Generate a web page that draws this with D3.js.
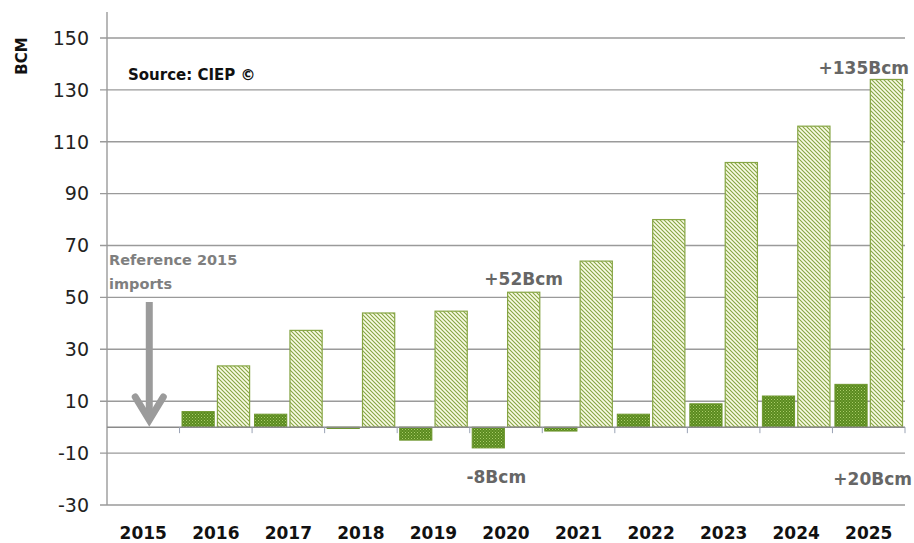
<!DOCTYPE html>
<html>
<head>
<meta charset="utf-8">
<script src="https://cdn.jsdelivr.net/npm/d3@7"></script>
<style>
  body { margin: 0; background: #fff; }
  svg { display: block; }
  text { font-family: "DejaVu Sans", sans-serif; }
</style>
</head>
<body>
<svg id="chart" width="914" height="543"></svg>
<script>
// ---- data ----
const years = ["2015","2016","2017","2018","2019","2020","2021","2022","2023","2024","2025"];
const importChange = [null, 6, 5, -0.5, -5, -8, -1.5, 5, 9, 12, 16.5];
const demandGrowth = [null, 23.6, 37.3, 44, 44.7, 52, 64, 80, 102, 116, 134];
const yTicks = [-30, -10, 10, 30, 50, 70, 90, 110, 130, 150];
const yDomain = [-30, 160];
const annotations = [
  { year: "2020", value: 52, text: "+52Bcm", pos: "above" },
  { year: "2020", value: -8, text: "-8Bcm", pos: "below" },
  { year: "2025", value: 134, text: "+135Bcm", pos: "above" },
  { year: "2025", value: -16, text: "+20Bcm", pos: "low" }
];

(function () {
const svg = d3.select("#chart");
const mLeft = 107, mRight = 905, mTop = 12, mBottom = 505;

const y = d3.scaleLinear().domain(yDomain).range([mBottom, mTop]);
const x = d3.scaleBand().domain(years).range([mLeft, mRight]).paddingInner(0).paddingOuter(0);
const x1 = d3.scaleBand().domain(["imp", "dem"]).range([0, x.bandwidth()]).paddingInner(0.09).paddingOuter(0.07);

// ---- patterns ----
const defs = svg.append("defs");
const dots = defs.append("pattern").attr("id", "dots").attr("patternUnits", "userSpaceOnUse")
  .attr("width", 3).attr("height", 3);
dots.append("rect").attr("width", 3).attr("height", 3).attr("fill", "#5a8a1e");
dots.append("rect").attr("x", 0).attr("y", 0).attr("width", 1).attr("height", 1).attr("fill", "#a9cc6a");
dots.append("rect").attr("x", 1.5).attr("y", 1.5).attr("width", 1).attr("height", 1).attr("fill", "#93b957");

const stripes = defs.append("pattern").attr("id", "stripes").attr("patternUnits", "userSpaceOnUse")
  .attr("width", 4).attr("height", 4);
stripes.append("rect").attr("width", 4).attr("height", 4).attr("fill", "#fafce6");
stripes.append("path").attr("d", "M-1,-1 L5,5 M-1,3 L1,5 M3,-1 L5,1")
  .attr("stroke", "#86a544").attr("stroke-width", 1.1);

// ---- gridlines ----
svg.append("g").selectAll("line").data(yTicks).join("line")
  .attr("x1", mLeft - 7).attr("x2", mRight)
  .attr("y1", d => y(d)).attr("y2", d => y(d))
  .attr("stroke", "#9a9a9a").attr("stroke-width", 1.4);

// y axis line
svg.append("line").attr("x1", mLeft).attr("x2", mLeft).attr("y1", mTop).attr("y2", mBottom)
  .attr("stroke", "#9a9a9a").attr("stroke-width", 1.4);

// y tick labels
svg.append("g").selectAll("text").data(yTicks).join("text")
  .attr("x", 89).attr("y", d => y(d)).attr("dy", "0.36em")
  .attr("text-anchor", "end").attr("font-size", 19).attr("fill", "#222")
  .text(d => d);

// y axis title
svg.append("text").attr("transform", `translate(27,56) rotate(-90)`)
  .attr("text-anchor", "middle").attr("font-size", 15).attr("font-weight", "bold").attr("fill", "#111")
  .text("BCM");

// ---- bars ----
const rows = years.map((yr, i) => ({ yr, imp: importChange[i], dem: demandGrowth[i] }));
const g = svg.append("g");
rows.filter(r => r.imp !== null).forEach(r => {
  g.append("rect")
    .attr("x", x(r.yr) + x1("imp")).attr("width", x1.bandwidth())
    .attr("y", y(Math.max(0, r.imp))).attr("height", Math.abs(y(r.imp) - y(0)))
    .attr("fill", "url(#dots)").attr("stroke", "#6d962c").attr("stroke-width", 1);
  g.append("rect")
    .attr("x", x(r.yr) + x1("dem")).attr("width", x1.bandwidth())
    .attr("y", y(Math.max(0, r.dem))).attr("height", Math.abs(y(r.dem) - y(0)))
    .attr("fill", "url(#stripes)").attr("stroke", "#86a544").attr("stroke-width", 1.2);
});

// zero line and category ticks
svg.append("line").attr("x1", mLeft).attr("x2", mRight).attr("y1", y(0)).attr("y2", y(0))
  .attr("stroke", "#8a8a8a").attr("stroke-width", 1.5);
svg.append("g").selectAll("line").data(years.slice(1).concat(["end"])).join("line")
  .attr("x1", d => d === "end" ? mRight : x(d)).attr("x2", d => d === "end" ? mRight : x(d))
  .attr("y1", y(0)).attr("y2", y(0) + 6)
  .attr("stroke", "#9aa3b5").attr("stroke-width", 1);

// x labels
svg.append("g").selectAll("text").data(years).join("text")
  .attr("x", d => x(d) + x.bandwidth() / 2).attr("y", 539)
  .attr("text-anchor", "middle").attr("font-size", 17).attr("font-weight", "bold").attr("fill", "#111")
  .text(d => d);

// ---- annotations ----
svg.append("text").attr("x", 128).attr("y", 80).attr("font-size", 15).attr("font-weight", "bold")
  .attr("fill", "#111").text("Source: CIEP \u00A9");

svg.append("text").attr("x", 109).attr("y", 265).attr("font-size", 14.5).attr("font-weight", "bold")
  .attr("fill", "#7f7f7f").text("Reference 2015");
svg.append("text").attr("x", 109).attr("y", 289).attr("font-size", 14.5).attr("font-weight", "bold")
  .attr("fill", "#7f7f7f").text("imports");

const ax = x("2015") + x.bandwidth() / 2 + 6;
svg.append("line").attr("x1", ax).attr("x2", ax).attr("y1", 302).attr("y2", 418)
  .attr("stroke", "#9b9b9b").attr("stroke-width", 7);
svg.append("polyline").attr("points", `${ax - 14},${397} ${ax},${420} ${ax + 14},${397}`)
  .attr("fill", "none").attr("stroke", "#9b9b9b").attr("stroke-width", 7)
  .attr("stroke-linecap", "round").attr("stroke-linejoin", "miter");

annotations.forEach(a => {
  let tx, ty, anchor;
  if (a.pos === "above") {
    if (a.year === "2025") { tx = mRight + 4; anchor = "end"; ty = y(a.value) - 5; }
    else { tx = x(a.year) + x1("dem") + x1.bandwidth() / 2; anchor = "middle"; ty = y(a.value) - 7; }
  } else if (a.pos === "below") {
    tx = x(a.year) + x1("imp") + x1.bandwidth() / 2 + 8; anchor = "middle"; ty = 483;
  } else {
    tx = mRight + 7; anchor = "end"; ty = 485;
  }
  svg.append("text").attr("x", tx).attr("y", ty).attr("text-anchor", anchor)
    .attr("font-size", 17).attr("font-weight", "bold").attr("fill", "#666").text(a.text);
});
})();
</script>
</body>
</html>
